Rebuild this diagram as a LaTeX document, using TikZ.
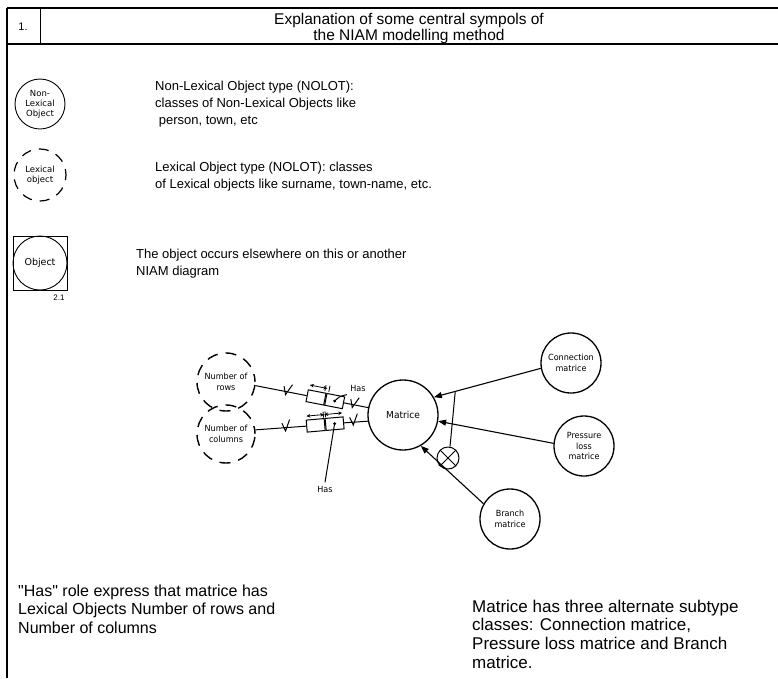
\documentclass[tikz,border=0pt]{standalone}
\usepackage{fontspec}
\setmainfont{Liberation Sans}[Ligatures=TeXOff]
\newfontfamily\diagfont[FakeStretch=0.95]{DejaVu Sans}
\newfontfamily\legfont{DejaVu Sans}
\usetikzlibrary{arrows.meta}
\tikzset{
  frameline/.style={line width=1.3pt},
  desc/.style={anchor=west, align=left, inner sep=0pt, font=\fontsize{13}{17}\selectfont},
  note/.style={anchor=west, align=left, inner sep=0pt, font=\fontsize{16}{18.6}\selectfont},
  symlabel/.style={font=\legfont\fontsize{8.5}{10}\selectfont, align=center},
  nolot/.style={circle, draw, line width=0.9pt, minimum size=#1, inner sep=0pt, symlabel},
  lolot/.style={circle, draw, dash pattern=on 10pt off 8pt, dash phase=4pt, line width=1.2pt, minimum size=#1, inner sep=0pt, symlabel},
  dlabel/.style={font=\diagfont\fontsize{8.5}{10.5}\selectfont, align=center},
  dobj/.style={circle, draw, line width=1.3pt, minimum size=#1, inner sep=0pt, dlabel},
  dlex/.style={circle, draw, dash pattern=on 11pt off 8pt, dash phase=3pt, line width=1.4pt, minimum size=#1, inner sep=0pt, dlabel},
  rolebox/.style={draw, line width=1pt, minimum width=18pt, minimum height=12pt, inner sep=0pt, transform shape},
  link/.style={line width=1pt},
  subarrow/.style={line width=1.1pt, -{Triangle[length=8pt,width=6pt]}},
  uniq/.style={line width=0.8pt, {Stealth[length=4pt,width=3.5pt]}-{Stealth[length=4pt,width=3.5pt]}},
  tick/.style={line width=0.8pt},
}
\begin{document}
\begin{tikzpicture}[x=1pt, y=-1pt]
\useasboundingbox (0,0) rectangle (778,678);

% frame and header
\draw[line width=1.8pt] (7,8) -- (7,678);
\draw[frameline] (7,8) -- (778,8);
\draw[frameline] (7,44) -- (778,44);
\draw[line width=1pt] (40,8) -- (40,44);
\node[font=\fontsize{11}{12}\selectfont] (num) at (23,27) {1.};
\node[font=\fontsize{15.5}{16}\selectfont, align=center] (title) at (409,28)
  {Explanation of some central sympols of\\the NIAM modelling method};

% legend symbols
\node[nolot=50pt] (nlo) at (40,104) {Non-\\Lexical\\Object};
\node[desc] (nlotxt) at (155,104)
  {Non-Lexical Object type (NOLOT):\\classes of Non-Lexical Objects like\\\ person, town, etc};

\node[lolot=52pt] (lo) at (40,175) {Lexical\\object};
\node[desc] (lotxt) at (155,177)
  {Lexical Object type (NOLOT): classes\\of Lexical objects like surname, town-name, etc.};

\node[draw, line width=0.9pt, minimum size=54pt, inner sep=0pt] (refsq) at (40,263) {};
\node[nolot=54pt, font=\legfont\fontsize{9.5}{10}\selectfont] (refobj) at (40,263) {Object};
\node[font=\fontsize{8}{9}\selectfont, anchor=north] (refnum) at (59,291) {2.1};
\node[desc] (reftxt) at (136,264)
  {The object occurs elsewhere on this or another\\NIAM diagram};

% NIAM example diagram
\node[dlex=58pt] (rows) at (226,382) {Number of\\rows};
\node[dlex=58pt] (cols) at (226,434) {Number of\\columns};
\node[dobj=70pt, font=\diagfont\fontsize{9.5}{11}\selectfont] (mat) at (403,415) {Matrice};
\node[dobj=60pt] (conn) at (571,363) {Connection\\matrice};
\node[dobj=60pt] (pres) at (584,446) {Pressure\\loss\\matrice};
\node[dobj=60pt] (branch) at (510,519) {Branch\\matrice};

% fact type: rows -- matrice
\coordinate (rA) at (rows.-7);
\coordinate (rB) at (mat.168);
\path (rA) -- (rB) coordinate[pos=0.62] (rc);
\begin{scope}[shift={(rc)}, rotate=-11]
  \node[rolebox, anchor=east] (r1) at (0,0) {};
  \node[rolebox, anchor=west] (r2) at (0,0) {};
  \fill (r2.center) circle (1.6pt);
  \draw[uniq] (-18,-11) -- (0,-11);
  \draw[tick] (-2,-14) -- (-2,-8) (2,-14) -- (2,-8);
  \draw[link] (-43,-5) -- (-40,3) -- (-35,-8);
  \draw[link] (25,-5) -- (28,3) -- (33,-8);
\end{scope}
\draw[link] (rA) -- (r1.west);
\draw[link] (r2.east) -- (rB);
\node[dlabel] (has1) at (358,388) {Has};
\draw[link] (has1.south west) to[bend right=20] (r2.center);

% fact type: columns -- matrice
\coordinate (cA) at (cols.8);
\coordinate (cB) at (mat.190);
\path (cA) -- (cB) coordinate[pos=0.62] (cc);
\begin{scope}[shift={(cc)}, rotate=5]
  \node[rolebox, anchor=east] (c1) at (0,0) {};
  \node[rolebox, anchor=west] (c2) at (0,0) {};
  \fill (c2.center) circle (1.6pt);
  \draw[uniq] (-18,-10) -- (0,-10);
  \draw[uniq] (0,-10) -- (18,-10);
  \draw[tick] (-1,-13) -- (-1,-7) (1,-13) -- (1,-7);
  \draw[link] (-43,-5) -- (-40,3) -- (-35,-8);
  \draw[link] (25,-5) -- (28,3) -- (33,-8);
\end{scope}
\draw[link] (cA) -- (c1.west);
\draw[link] (c2.east) -- (cB);
\node[dlabel] (has2) at (325,489) {Has};
\draw[link] (has2.north) -- (c2.center);

% subtype arrows with exclusion constraint
\draw[subarrow] (conn.190) -- (mat.30) coordinate[pos=0.8] (pc);
\draw[subarrow] (pres.175) -- (mat.-10) coordinate[pos=0.5] (pp);
\draw[subarrow] (branch.150) -- (mat.-60) coordinate[pos=0.6] (pb);
\node[circle, draw, line width=1pt, minimum size=22pt, inner sep=0pt] (excl) at (448,458) {};
\draw[line width=1pt] (excl.45) -- (excl.225) (excl.135) -- (excl.-45);
\draw[link] (excl.80) -- (pc);
\draw[link] (excl.215) -- (pb);

% explanations
\node[note] (hastxt) at (18,609)
  {"Has" role express that matrice has\\Lexical Objects Number of rows and\\Number of columns};
\node[note, font=\fontsize{17}{18.7}\selectfont] (subtxt) at (472,634)
  {Matrice has three alternate subtype\\classes: Connection matrice,\\Pressure loss matrice and Branch\\matrice.};
\end{tikzpicture}
\end{document}
